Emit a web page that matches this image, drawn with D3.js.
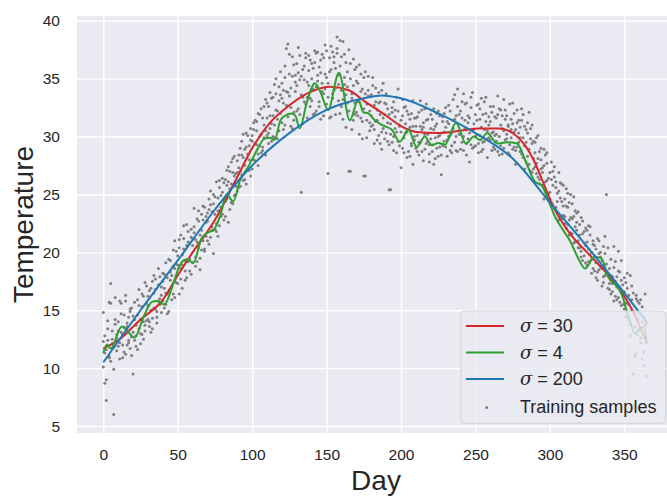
<!DOCTYPE html>
<html>
<head>
<meta charset="utf-8">
<script src="https://cdn.jsdelivr.net/npm/d3@7"></script>
<style>
  body { margin: 0; background: #fff; }
  text { font-family: "Liberation Sans", Arial, sans-serif; fill: #262626; }
</style>
</head>
<body>
<div id="chart"></div>
<script>
// training samples, one value per day (index = day of year), three years
const tempsA = [
  10.1, 12.8, 7.2, 13.4, 11.0, 15.6, 12.1, 9.9, 14.2, 12.6,
  11.9, 15.8, 13.1, 12.0, 14.6, 11.2, 13.9, 12.4, 15.1, 12.7,
  9.5, 14.2, 12.8, 15.9, 13.4, 12.1, 16.4, 14.0, 13.2, 17.1,
  15.4, 13.6, 16.9, 14.3, 18.0, 15.1, 13.9, 17.2, 16.0, 14.8,
  17.5, 15.2, 19.1, 16.4, 14.9, 18.3, 17.0, 20.2, 16.1, 19.0,
  17.3, 20.4, 18.6, 16.9, 21.2, 19.3, 17.8, 20.9, 18.4, 22.0,
  19.1, 21.7, 18.8, 22.9, 20.4, 19.5, 23.3, 21.0, 20.1, 22.6,
  23.4, 20.7, 24.1, 22.2, 19.9, 24.8, 22.5, 21.4, 25.6, 23.1,
  25.2, 22.8, 26.3, 24.6, 27.4, 23.7, 25.9, 28.1, 24.9, 26.8,
  25.3, 28.4, 27.0, 29.6, 26.2, 28.9, 30.3, 27.1, 29.2, 26.6,
  30.1, 28.0, 31.4, 29.3, 27.5, 31.9, 30.2, 28.8, 32.6, 30.5,
  31.6, 29.4, 33.8, 31.1, 30.0, 34.5, 32.3, 29.8, 33.1, 35.6,
  31.2, 34.0, 36.1, 32.7, 38.0, 33.5, 30.9, 35.2, 32.1, 34.7,
  36.3, 32.4, 34.9, 25.2, 35.8, 33.0, 37.2, 31.6, 34.4, 36.6,
  33.1, 35.9, 37.4, 32.2, 34.8, 36.0, 31.5, 37.1, 33.7, 35.4,
  32.8, 26.8, 35.6, 37.8, 33.3, 36.4, 31.9, 38.6, 34.5, 32.0,
  36.9, 33.2, 35.1, 30.8, 34.3, 37.5, 27.0, 33.7, 31.4, 35.8,
  32.1, 34.6, 30.2, 33.9, 31.3, 35.1, 26.6, 32.8, 34.0, 30.5,
  33.6, 31.0, 29.4, 34.2, 32.3, 30.1, 33.0, 28.9, 31.6, 32.9,
  30.3, 32.4, 25.4, 31.1, 29.5, 33.0, 30.7, 28.6, 32.2, 31.0,
  27.3, 31.8, 29.9, 32.6, 30.4, 28.7, 31.5, 29.2, 33.1, 30.0,
  29.0, 31.7, 28.4, 30.9, 32.3, 27.9, 30.2, 31.4, 29.6, 28.5,
  31.9, 29.3, 30.6, 28.1, 32.0, 30.0, 29.1, 26.7, 31.3, 30.4,
  32.5, 29.7, 31.1, 28.8, 30.3, 33.2, 29.5, 31.8, 34.1, 30.2,
  28.9, 31.6, 30.0, 32.8, 29.4, 31.2, 27.8, 33.4, 30.5, 29.1,
  31.9, 30.2, 28.6, 32.4, 30.8, 29.5, 33.0, 31.3, 28.2, 31.0,
  29.7, 32.1, 30.4, 28.9, 31.6, 33.5, 30.0, 29.2, 31.8, 30.5,
  32.3, 29.8, 31.0, 28.4, 30.6, 32.9, 29.1, 27.6, 31.2, 30.3,
  28.7, 31.4, 29.9, 27.2, 30.6, 28.3, 32.1, 27.0, 29.4, 28.1,
  29.5, 26.8, 28.1, 25.9, 29.0, 27.3, 24.6, 28.4, 26.2, 25.1,
  26.9, 24.3, 25.8, 27.4, 23.9, 25.1, 22.8, 26.0, 24.4, 23.2,
  24.6, 22.1, 23.9, 21.5, 25.0, 22.9, 20.8, 23.6, 21.9, 20.4,
  22.4, 20.1, 19.3, 21.8, 20.6, 18.9, 22.3, 19.8, 18.2, 20.7,
  18.4, 20.3, 17.6, 19.9, 18.8, 17.1, 20.5, 18.0, 25.0, 16.9,
  18.6, 16.4, 17.9, 15.8, 19.2, 17.0, 16.1, 18.3, 15.4, 17.2,
  15.1, 17.4, 14.6, 16.3, 13.8, 15.9, 9.5, 14.7, 16.0, 12.9,
  14.8, 12.6, 15.3, 11.4, 13.7, 12.2
];
const tempsB = [
  14.8, 11.3, 9.0, 12.4, 15.7, 10.6, 13.2, 11.8, 16.1, 12.9,
  14.0, 12.2, 15.6, 10.9, 13.5, 16.3, 12.0, 14.4, 11.7, 15.2,
  13.1, 15.7, 11.9, 14.6, 16.8, 13.0, 15.3, 12.5, 17.4, 14.1,
  16.2, 14.0, 13.1, 17.5, 15.2, 16.8, 14.4, 18.6, 15.5, 17.0,
  15.8, 18.1, 16.5, 14.7, 19.4, 17.6, 15.9, 18.8, 21.0, 17.4,
  19.7, 16.4, 21.5, 18.9, 20.3, 17.6, 22.4, 19.2, 20.8, 18.1,
  21.2, 23.8, 19.6, 20.9, 22.7, 18.5, 21.9, 24.0, 20.3, 23.1,
  21.0, 23.7, 25.3, 21.9, 24.2, 22.0, 26.1, 23.6, 22.3, 24.9,
  23.3, 26.0, 24.4, 27.1, 22.6, 25.5, 27.8, 24.2, 26.6, 25.0,
  27.9, 25.6, 29.0, 26.7, 28.2, 27.5, 25.9, 30.1, 28.0, 29.7,
  27.2, 30.6, 29.4, 31.3, 28.5, 30.0, 32.4, 29.1, 31.0, 28.4,
  32.9, 30.3, 31.8, 29.6, 33.4, 31.0, 35.0, 32.2, 30.5, 33.6,
  34.6, 32.9, 31.0, 37.6, 33.8, 35.4, 32.5, 30.7, 36.2, 33.9,
  32.2, 35.5, 37.0, 33.6, 31.1, 34.9, 36.8, 33.4, 35.7, 32.6,
  36.3, 34.1, 32.0, 37.2, 35.3, 33.0, 36.6, 34.6, 31.8, 37.9,
  35.1, 33.4, 36.8, 31.7, 37.3, 34.0, 35.9, 37.6, 33.1, 36.1,
  32.6, 38.2, 34.5, 36.4, 32.9, 27.0, 35.0, 33.3, 36.7, 31.9,
  34.8, 33.0, 36.2, 31.6, 34.1, 32.4, 35.6, 29.9, 33.5, 31.2,
  30.9, 34.4, 32.7, 31.3, 29.7, 33.8, 31.9, 30.4, 34.6, 29.8,
  32.8, 31.2, 29.3, 25.4, 32.1, 30.0, 31.7, 33.4, 29.6, 30.9,
  31.4, 29.0, 32.5, 30.3, 28.2, 31.9, 30.8, 29.4, 27.6, 31.6,
  30.9, 28.7, 32.1, 29.5, 30.6, 31.2, 28.9, 32.8, 30.2, 29.3,
  29.8, 31.5, 27.6, 30.9, 29.0, 32.2, 30.1, 28.4, 31.7, 29.6,
  30.8, 28.3, 32.7, 30.1, 29.2, 31.4, 33.6, 30.0, 28.7, 31.9,
  32.2, 29.5, 33.7, 30.7, 28.4, 31.8, 30.3, 32.5, 29.0, 31.1,
  30.0, 32.7, 29.4, 31.5, 33.3, 28.9, 30.6, 32.0, 29.8, 31.7,
  31.3, 28.8, 32.6, 30.1, 29.6, 31.9, 28.4, 32.3, 30.7, 29.0,
  31.5, 30.2, 28.6, 32.8, 29.9, 31.1, 30.4, 28.8, 32.3, 29.5,
  30.8, 28.5, 31.9, 29.2, 27.8, 30.3, 28.9, 30.7, 26.9, 29.6,
  27.4, 29.9, 26.5, 28.7, 27.2, 25.8, 28.9, 26.1, 27.7, 24.5,
  25.2, 27.8, 24.1, 26.5, 25.6, 23.4, 26.9, 24.7, 22.9, 25.8,
  23.1, 25.5, 22.4, 24.3, 23.0, 21.6, 24.8, 22.2, 23.4, 21.0,
  20.4, 23.0, 21.6, 19.7, 22.1, 20.9, 19.2, 21.5, 20.0, 18.6,
  20.6, 19.1, 18.3, 21.0, 19.6, 18.6, 17.4, 19.9, 18.2, 20.4,
  16.8, 19.4, 17.3, 18.7, 16.2, 17.9, 20.1, 15.7, 17.6, 16.4,
  17.8, 15.6, 16.9, 14.2, 18.0, 15.0, 16.5, 13.6, 11.2, 15.8,
  13.3, 15.9, 10.8, 14.4, 12.7, 13.9
];
const tempsC = [
  12.3, 8.7, 11.6, 14.1, 10.9, 17.3, 12.5, 6.0, 13.8, 11.5,
  13.2, 10.8, 14.7, 12.9, 11.4, 15.8, 13.6, 12.2, 14.9, 11.1,
  14.5, 12.4, 13.7, 11.6, 15.4, 14.2, 12.9, 16.2, 13.7, 15.6,
  14.2, 16.7, 15.0, 13.4, 16.5, 17.7, 14.9, 15.8, 17.9, 16.3,
  18.2, 16.9, 15.5, 17.8, 16.6, 19.3, 18.0, 16.4, 18.6, 20.1,
  18.9, 21.1, 17.7, 19.8, 22.3, 18.4, 20.6, 21.8, 19.4, 21.3,
  20.6, 22.2, 21.1, 19.2, 23.6, 21.5, 20.2, 22.8, 23.9, 21.4,
  22.7, 24.6, 21.3, 23.5, 25.0, 23.3, 21.8, 24.7, 26.2, 23.9,
  26.4, 24.5, 23.1, 25.8, 26.1, 27.0, 24.3, 26.9, 28.3, 25.7,
  26.9, 27.3, 25.7, 28.4, 30.2, 26.3, 29.1, 28.5, 27.1, 30.7,
  29.6, 31.2, 27.9, 30.5, 32.0, 29.2, 28.6, 31.6, 29.9, 33.2,
  30.1, 32.6, 30.7, 33.3, 31.8, 29.9, 33.7, 31.5, 34.3, 32.0,
  33.3, 30.6, 35.1, 33.9, 31.7, 37.1, 34.2, 36.9, 31.4, 35.3,
  34.4, 37.7, 31.9, 35.2, 33.4, 36.1, 32.8, 34.7, 37.0, 33.3,
  35.0, 31.9, 36.4, 34.3, 37.3, 32.6, 35.5, 33.9, 36.8, 34.1,
  37.4, 34.6, 31.6, 35.8, 33.7, 36.9, 34.2, 37.2, 35.3, 38.3,
  34.0, 31.5, 37.1, 33.6, 35.6, 32.2, 36.3, 30.6, 34.4, 32.9,
  36.0, 31.8, 33.2, 35.4, 29.8, 26.6, 33.7, 31.4, 35.2, 32.2,
  31.8, 35.1, 30.6, 33.0, 31.4, 32.9, 29.4, 34.0, 30.7, 31.9,
  33.7, 29.6, 31.9, 30.2, 32.5, 28.8, 32.3, 30.4, 34.1, 29.2,
  30.4, 33.2, 28.6, 31.1, 32.2, 30.6, 28.3, 32.0, 30.9, 29.7,
  31.6, 30.1, 29.5, 33.1, 28.7, 30.8, 32.4, 29.4, 31.5, 27.8,
  30.7, 28.7, 32.4, 29.9, 31.1, 28.3, 31.8, 30.3, 29.2, 32.0,
  29.1, 31.3, 30.0, 32.2, 28.6, 30.7, 31.5, 28.8, 32.6, 30.5,
  30.2, 33.0, 28.8, 31.4, 32.9, 29.8, 31.6, 29.3, 33.8, 30.6,
  29.2, 31.4, 32.8, 30.1, 28.7, 31.9, 29.6, 33.4, 30.5, 29.9,
  32.6, 30.3, 29.1, 31.7, 30.2, 28.7, 32.4, 31.0, 28.5, 33.2,
  29.7, 31.8, 30.9, 29.3, 31.5, 28.9, 32.0, 30.6, 29.1, 31.4,
  29.9, 32.4, 28.2, 30.9, 29.5, 31.2, 27.6, 29.8, 31.0, 27.2,
  28.6, 27.7, 30.1, 26.3, 28.0, 26.9, 27.5, 25.3, 28.6, 26.4,
  24.6, 26.3, 27.0, 23.8, 26.1, 24.4, 25.3, 23.1, 25.9, 24.0,
  22.5, 24.0, 25.1, 22.8, 21.7, 24.2, 23.1, 20.9, 22.6, 23.5,
  21.5, 19.6, 22.7, 20.8, 19.1, 21.9, 20.3, 22.2, 19.4, 21.0,
  19.7, 17.8, 21.2, 18.5, 20.0, 19.3, 17.9, 21.4, 19.0, 18.1,
  17.3, 18.0, 16.6, 20.5, 17.5, 15.9, 18.4, 17.0, 19.3, 15.5,
  16.6, 14.4, 18.2, 15.5, 12.8, 17.1, 14.9, 11.0, 16.3, 14.2,
  15.6, 12.2, 14.0, 10.2, 16.4, 9.3
];

// fitted curves
const sigma30Days = [0, 10, 25, 40, 50, 60, 75, 90, 100, 112, 125, 140, 152, 165, 175, 190, 200, 210, 225, 240, 252, 266, 278, 289, 295, 301, 313, 325, 336, 350, 355, 365];
const sigma30Temps = [11.7, 12.4, 14.2, 15.9, 18.0, 20.0, 22.8, 26.5, 29.0, 31.2, 32.7, 33.9, 34.3, 34.0, 33.1, 31.8, 30.9, 30.4, 30.3, 30.5, 30.7, 30.7, 30.0, 28.0, 26.2, 24.3, 21.7, 20.0, 18.5, 16.2, 15.1, 12.2];

const sigma4Days = [0, 2.5, 5, 12.4, 21, 27, 32.5, 36, 41, 47, 51.5, 56, 60.5, 66, 70, 74, 78.4, 82.9, 87.3, 91.8, 97.4, 104, 108, 112, 115, 119, 122, 126.5, 129, 132, 136.6, 142.2, 146, 151, 158.3, 165.6, 171.3, 174.7, 178, 182.5, 187, 193.7, 199.3, 204.9, 210.5, 216, 220.6, 225, 229.5, 237, 243.5, 249, 253, 258, 264.5, 271, 278, 283.3, 290, 294.5, 299, 303.4, 309, 313.5, 319, 323.6, 330, 334.5, 339, 346, 349.3, 351, 354, 357, 360.5, 363, 365];
const sigma4Temps = [11.3, 12.05, 11.7, 13.6, 12.65, 14.4, 15.7, 15.8, 15.5, 17.3, 18.9, 19.4, 19.1, 21.2, 21.7, 21.9, 23.1, 25.0, 24.4, 26.2, 27.4, 29.0, 29.8, 29.9, 29.7, 31.4, 31.8, 32.0, 31.8, 30.7, 32.9, 34.6, 33.8, 32.3, 35.5, 31.4, 33.2, 32.1, 32.0, 31.4, 31.0, 30.6, 29.55, 30.6, 29.1, 30.0, 29.25, 29.45, 29.3, 31.2, 29.4, 30.0, 29.7, 30.3, 29.4, 29.5, 29.4, 28.0, 26.1, 25.8, 24.5, 23.1, 21.9, 21.0, 19.5, 18.6, 19.6, 19.5, 17.9, 16.9, 16.0, 15.2, 14.0, 13.0, 13.4, 13.5, 12.4];

const sigma200Days = [0, 25, 50, 75, 100, 125, 150, 175, 187, 200, 225, 250, 275, 300, 325, 350, 365];
const sigma200Temps = [10.5, 15.0, 19.3, 23.7, 27.5, 30.3, 32.3, 33.3, 33.55, 33.3, 32.0, 30.3, 28.1, 24.3, 20.5, 16.5, 14.0];

const seriesNames = ["σ = 30", "σ = 4", "σ = 200"];
const seriesColors = ["#d62728", "#2ca02c", "#1f77b4"];

const xTicks = [0, 50, 100, 150, 200, 250, 300, 350];
const yTicks = [5, 10, 15, 20, 25, 30, 35, 40];

const W = 667, H = 496;
const plot = { left: 77, top: 16, right: 675, bottom: 433 };

const svg = d3.select("#chart").append("svg")
  .attr("width", W)
  .attr("height", H);

const x = d3.scaleLinear().domain([-17.67, 384.06]).range([plot.left, plot.right]);
const y = d3.scaleLinear().domain([4.40, 40.41]).range([plot.bottom, plot.top]);

svg.append("rect")
  .attr("x", plot.left)
  .attr("y", plot.top)
  .attr("width", plot.right - plot.left)
  .attr("height", plot.bottom - plot.top)
  .attr("fill", "#eaeaf2");

// grid
const gridX = svg.append("g")
  .attr("transform", "translate(0," + plot.bottom + ")")
  .call(d3.axisBottom(x).tickValues(xTicks).tickSize(-(plot.bottom - plot.top)).tickFormat(""));
const gridY = svg.append("g")
  .attr("transform", "translate(" + plot.left + ",0)")
  .call(d3.axisLeft(y).tickValues(yTicks).tickSize(-(plot.right - plot.left)).tickFormat(""));
[gridX, gridY].forEach(function (g) {
  g.select(".domain").remove();
  g.selectAll("line").attr("stroke", "#fff").attr("stroke-width", 1.4);
});

// tick labels
const xAxis = svg.append("g")
  .attr("transform", "translate(0," + plot.bottom + ")")
  .call(d3.axisBottom(x).tickValues(xTicks).tickSize(0).tickPadding(15.5));
const yAxis = svg.append("g")
  .attr("transform", "translate(" + plot.left + ",0)")
  .call(d3.axisLeft(y).tickValues(yTicks).tickSize(0).tickPadding(17));
[xAxis, yAxis].forEach(function (g) {
  g.select(".domain").remove();
  g.selectAll("text")
    .attr("fill", "#262626")
    .style("font-size", "15.5px")
    .style("font-family", "'Liberation Sans', Arial, sans-serif");
});

const plotArea = svg.append("g");

let samples = [];
[tempsA, tempsB, tempsC].forEach(function (arr) {
  arr.forEach(function (t, day) { samples.push({ day: day, temp: t }); });
});

plotArea.selectAll("circle.sample")
  .data(samples)
  .enter()
  .append("circle")
  .attr("class", "sample")
  .attr("cx", function (d) { return x(d.day); })
  .attr("cy", function (d) { return y(d.temp); })
  .attr("r", 1.5)
  .attr("fill", "#7f7f7f");

const curves = [
  { days: sigma30Days, temps: sigma30Temps },
  { days: sigma4Days, temps: sigma4Temps },
  { days: sigma200Days, temps: sigma200Temps }
];

const lineGen = d3.line()
  .x(function (d) { return x(d[0]); })
  .y(function (d) { return y(d[1]); })
  .curve(d3.curveMonotoneX);

curves.forEach(function (c, i) {
  plotArea.append("path")
    .datum(d3.zip(c.days, c.temps))
    .attr("fill", "none")
    .attr("stroke", seriesColors[i])
    .attr("stroke-width", 2)
    .attr("d", lineGen);
});

// axis labels
svg.append("text")
  .attr("x", (plot.left + plot.right) / 2)
  .attr("y", 490)
  .attr("text-anchor", "middle")
  .style("font-size", "28px")
  .text("Day");

svg.append("text")
  .attr("transform", "translate(33," + (plot.top + plot.bottom) / 2 + ") rotate(-90)")
  .attr("text-anchor", "middle")
  .style("font-size", "28px")
  .text("Temperature");

// legend
const legend = svg.append("g").attr("transform", "translate(461,311)");
legend.append("rect")
  .attr("width", 204.7)
  .attr("height", 112.3)
  .attr("rx", 4)
  .attr("fill", "#eaeaf2")
  .attr("fill-opacity", 0.8)
  .attr("stroke", "#cccccc")
  .attr("stroke-opacity", 0.8);

const rowY = [15, 41.5, 68, 95.5];
seriesNames.forEach(function (name, i) {
  legend.append("line")
    .attr("x1", 5).attr("x2", 43)
    .attr("y1", rowY[i]).attr("y2", rowY[i])
    .attr("stroke", seriesColors[i])
    .attr("stroke-width", 2);
  let parts = name.split(" = ");
  let t = legend.append("text")
    .attr("x", 59)
    .attr("y", rowY[i])
    .attr("dy", "0.35em")
    .style("font-size", "18px");
  t.append("tspan").style("font-style", "italic").style("font-family", "'DejaVu Serif', serif").text(parts[0]);
  t.append("tspan").text(" = " + parts[1]);
});
legend.append("circle")
  .attr("cx", 25.7)
  .attr("cy", rowY[3] + 1)
  .attr("r", 1.5)
  .attr("fill", "#7f7f7f");
legend.append("text")
  .attr("x", 59)
  .attr("y", rowY[3])
  .attr("dy", "0.35em")
  .style("font-size", "18px")
  .text("Training samples");
</script>
</body>
</html>
